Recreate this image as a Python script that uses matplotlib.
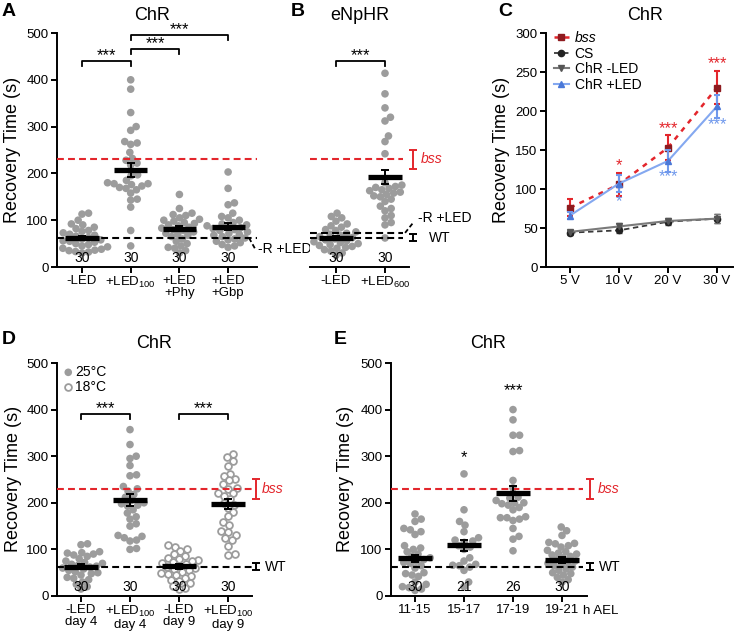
import numpy as np
import matplotlib
matplotlib.use("Agg")
import matplotlib.pyplot as plt

plt.rcParams['font.family'] = ['Liberation Sans', 'DejaVu Sans']
plt.rcParams['mathtext.fontset'] = 'custom'
plt.rcParams['mathtext.rm'] = 'Liberation Sans'
plt.rcParams['mathtext.it'] = 'Liberation Sans:italic'

W, H = 744, 634

# === data ===
# panel A (ChR)
a_labels = ['-LED', '+LED$_{100}$', '+LED\n+Phy', '+LED\n+Gbp']
a_pts = [
    [115, 113, 100, 92, 90, 85, 82, 78, 76, 73, 70, 68, 66, 63, 60, 58, 56, 55, 53, 50, 48, 45, 43, 40, 38, 36, 35, 33, 32, 30],
    [400, 380, 330, 300, 292, 268, 265, 262, 245, 232, 228, 222, 218, 197, 195, 185, 180, 178, 178, 176, 173, 170, 168, 165, 158, 145, 143, 128, 78, 45],
    [155, 125, 115, 112, 110, 105, 102, 100, 98, 95, 93, 90, 88, 85, 83, 80, 78, 75, 72, 70, 68, 65, 60, 55, 50, 45, 42, 40, 35, 30],
    [203, 168, 137, 133, 115, 108, 105, 100, 95, 92, 90, 88, 86, 84, 82, 80, 78, 75, 72, 70, 68, 65, 62, 60, 58, 55, 52, 48, 45, 42],
]
a_mean = [62, 207, 82, 86]
a_sem = [4, 15, 5, 8]
a_n = [30, 30, 30, 30]

# panel B (eNpHR)
b_labels = ['-LED', '+LED$_{600}$']
b_pts = [
    [115, 108, 105, 98, 92, 88, 85, 80, 78, 75, 72, 70, 68, 65, 63, 60, 58, 56, 54, 52, 50, 48, 46, 44, 42, 40, 37, 34, 30, 25],
    [414, 370, 340, 320, 312, 280, 268, 242, 180, 175, 172, 170, 168, 165, 163, 160, 158, 155, 152, 150, 145, 140, 130, 125, 120, 110, 105, 95, 90, 62],
]
b_mean = [63, 192]
b_sem = [4, 15]
b_n = [30, 30]

# panel C (ChR, voltage series)
c_labels = ['5 V', '10 V', '20 V', '30 V']
c_bss = [76, 106, 153, 230]
c_bss_err = [11, 15, 16, 21]
c_cs = [44, 47, 58, 62]
c_cs_err = [3, 4, 4, 6]
c_chr_off = [45, 52, 59, 62]
c_chr_off_err = [3, 4, 4, 6]
c_chr_on = [66, 107, 136, 206]
c_chr_on_err = [5, 11, 14, 15]

# panel D (ChR, temperature / day)
d_labels = ['-LED\nday 4', '+LED$_{100}$\nday 4', '-LED\nday 9', '+LED$_{100}$\nday 9']
d_pts = [
    [112, 110, 95, 93, 92, 90, 88, 85, 80, 75, 72, 70, 68, 66, 64, 62, 60, 58, 55, 52, 50, 48, 45, 40, 38, 35, 30, 25, 20, 15],
    [357, 325, 300, 295, 280, 260, 258, 235, 230, 225, 218, 212, 205, 200, 198, 195, 193, 185, 178, 170, 165, 155, 150, 130, 128, 125, 120, 118, 102, 100],
    [110, 105, 100, 97, 90, 85, 82, 80, 78, 75, 72, 70, 68, 65, 62, 60, 58, 55, 52, 50, 48, 45, 42, 38, 35, 32, 28, 22, 18, 15],
    [305, 298, 290, 280, 262, 258, 252, 248, 240, 232, 230, 222, 220, 215, 208, 200, 195, 188, 180, 172, 158, 152, 140, 138, 130, 125, 120, 108, 90, 88],
]
d_open = [False, False, True, True]
d_mean = [63, 206, 64, 198]
d_sem = [5, 13, 5, 11]
d_n = [30, 30, 30, 30]

# panel E (ChR, developmental time)
e_labels = ['11-15', '15-17', '17-19', '19-21']
e_pts = [
    [176, 165, 160, 145, 142, 138, 132, 108, 103, 100, 95, 90, 85, 82, 78, 75, 72, 70, 65, 60, 50, 48, 45, 42, 30, 25, 20, 18, 15, 12],
    [262, 185, 160, 152, 138, 125, 120, 118, 115, 108, 105, 100, 82, 75, 68, 66, 65, 62, 55, 30, 20],
    [400, 378, 345, 345, 312, 310, 248, 232, 212, 210, 205, 200, 200, 198, 195, 190, 185, 170, 168, 168, 165, 162, 145, 128, 122, 97],
    [148, 140, 130, 115, 113, 112, 108, 105, 98, 95, 92, 90, 88, 85, 82, 78, 75, 72, 70, 68, 65, 62, 58, 55, 50, 48, 45, 40, 35, 30],
]
e_mean = [81, 109, 220, 77]
e_sem = [8, 12, 16, 6]
e_n = [30, 21, 26, 30]

bss_ref, bss_ref_err = 230, 21
wt_ref, wt_ref_err = 63, 7
rled_ref = 62
rled_ref_b = 72

RED = '#e3262c'
GRAY = '#9c9c9c'

fig = plt.figure(figsize=(W / 100, H / 100), dpi=100)


def make_axes(left, right, top, bottom, c0, step, ymax):
    ax = fig.add_axes([left / W, 1 - bottom / H, (right - left) / W, (bottom - top) / H])
    ax.set_xlim((left - c0) / step, (right - c0) / step)
    ax.set_ylim(0, ymax)
    ax.spines['top'].set_visible(False)
    ax.spines['right'].set_visible(False)
    for s in ['left', 'bottom']:
        ax.spines[s].set_linewidth(1.4)
    ax.tick_params(width=1.4, length=4, labelsize=9.5, pad=2)
    ax._px = (step, (bottom - top) / ymax)
    return ax


def swarm(ys, px_x, px_y, d=6.6):
    # simple beeswarm: offsets so dots of diameter d (px) don't overlap
    ypx = np.asarray(ys, float) * px_y
    xs = np.zeros(len(ypx))
    placed = []
    for i in np.argsort(ypx):
        y = ypx[i]
        cands = [0.0]
        for xj, yj in placed:
            dy = abs(y - yj)
            if dy < d:
                dx = np.sqrt(d * d - dy * dy)
                cands += [xj + dx, xj - dx]
        cands.sort(key=abs)
        for c in cands:
            if all((c - xj) ** 2 + (y - yj) ** 2 >= d * d - 1e-6 for xj, yj in placed):
                xs[i] = c
                break
        placed.append((xs[i], y))
    return xs / px_x


def dots(ax, pts, opens=None):
    px_x, px_y = ax._px
    for i, ys in enumerate(pts):
        xs = i + swarm(ys, px_x, px_y)
        if opens is not None and opens[i]:
            ax.scatter(xs, ys, s=24, facecolor='white', edgecolor=GRAY, linewidth=1.3, zorder=2, clip_on=False)
        else:
            ax.scatter(xs, ys, s=30, facecolor=GRAY, edgecolor='none', zorder=2, clip_on=False)


def means(ax, mean, sem, n):
    for i, (m, e) in enumerate(zip(mean, sem)):
        ax.plot([i - 0.34, i + 0.34], [m, m], color='black', lw=3.8, solid_capstyle='butt', zorder=5)
        ax.errorbar(i, m, yerr=e, color='black', lw=1.4, capsize=3, capthick=1.4, zorder=5)
        ax.text(i, 20, str(n[i]), ha='center', va='center', fontsize=10, zorder=6)


def hline(ax, y, x1, color):
    x0 = ax.get_xlim()[0]
    ax.plot([x0, x1], [y, y], color=color, lw=1.5, dashes=(3.3, 2), zorder=4, clip_on=False)


def bracket(ax, x0, x1, y, stars, drop=11):
    ax.plot([x0, x0, x1, x1], [y - drop, y, y, y - drop], color='black', lw=1.3, clip_on=False)
    ax.text((x0 + x1) / 2, y - 4, stars, ha='center', va='bottom', fontsize=12, clip_on=False)


def side_refs(ax, xbar, xbss, xwt, wt=True):
    ax.errorbar(xbar, bss_ref, yerr=bss_ref_err, color=RED, lw=1.4, capsize=3, capthick=1.4, clip_on=False)
    ax.text(xbss, bss_ref, 'bss', color=RED, style='italic', ha='left', va='center', fontsize=10)
    if wt:
        ax.errorbar(xbar, wt_ref, yerr=wt_ref_err, color='black', lw=1.4, capsize=3, capthick=1.4, clip_on=False)
        ax.text(xwt, wt_ref, 'WT', ha='left', va='center', fontsize=10)


def xlabels(ax, labels):
    ax.set_xticks(range(len(labels)))
    ax.set_xticklabels(labels, linespacing=1.0)


# === Panel A ===
axA = make_axes(57, 257, 33, 267, 82, 48.7, 500)
axA.set_yticks(range(0, 501, 100))
xlabels(axA, a_labels)
dots(axA, a_pts)
means(axA, a_mean, a_sem, a_n)
hline(axA, bss_ref, 3.59, RED)
hline(axA, rled_ref, 3.59, 'black')
axA.plot([3.43, 3.57], [62, 36], color='black', lw=1.3, dashes=(2.5, 1.5), clip_on=False)
axA.text(3.61, 38, '-R +LED', ha='left', va='center', fontsize=10)
bracket(axA, 0, 1, 440, '***')
bracket(axA, 1, 2, 466, '***')
bracket(axA, 1, 3, 495, '***')

# === Panel B ===
axB = make_axes(310, 409, 33, 267, 336, 49, 500)
axB.spines['left'].set_visible(False)
axB.set_yticks([])
xlabels(axB, b_labels)
dots(axB, b_pts)
means(axB, b_mean, b_sem, b_n)
hline(axB, bss_ref, 1.37, RED)
hline(axB, wt_ref, 1.37, 'black')
hline(axB, rled_ref_b, 1.37, 'black')
axB.plot([1.41, 1.57], [73, 94], color='black', lw=1.3, dashes=(2.5, 1.5), clip_on=False)
axB.text(1.67, 105, '-R +LED', ha='left', va='center', fontsize=10)
side_refs(axB, 1.57, 1.73, 1.9)
bracket(axB, 0, 1, 440, '***')

# === Panel C ===
axC = make_axes(546, 733, 33, 267, 570, 49, 300)
axC.set_yticks(range(0, 301, 50))
xlabels(axC, c_labels)
xc = np.arange(4)
axC.errorbar(xc, c_cs, yerr=c_cs_err, fmt='none', ecolor='#444444', lw=1.2, capsize=2.5, zorder=2)
axC.errorbar(xc, c_chr_off, yerr=c_chr_off_err, fmt='none', ecolor='#777777', lw=1.2, capsize=2.5, zorder=2)
axC.errorbar(xc, c_bss, yerr=c_bss_err, fmt='none', ecolor=RED, lw=1.5, capsize=2.5, capthick=1.5, zorder=3)
axC.errorbar(xc, c_chr_on, yerr=c_chr_on_err, fmt='none', ecolor='#6f98ec', lw=1.5, capsize=2.5, capthick=1.5, zorder=4)
axC.plot(xc, c_bss, color=RED, lw=1.8, dashes=(2, 2.2), marker='s', ms=5, mfc='#8e1b1f', mec='#8e1b1f', label='bss', zorder=3)
axC.plot(xc, c_cs, color='#3a3a3a', lw=1.3, dashes=(3, 2), marker='o', ms=4.5, mfc='#222222', mec='#222222', label='CS', zorder=3)
axC.plot(xc, c_chr_off, color='#7a7a7a', lw=1.5, marker='v', ms=4.5, mfc='#555555', mec='#555555', label='ChR -LED', zorder=3)
axC.plot(xc, c_chr_on, color='#84a8f0', lw=1.5, marker='^', ms=4.5, mfc='#4a78d8', mec='#4a78d8', label='ChR +LED', zorder=4)
leg = axC.legend(loc='upper left', bbox_to_anchor=(-0.01, 1.05), frameon=False, fontsize=10,
                 handlelength=1.1, handletextpad=0.4, labelspacing=0.12, borderpad=0.2)
leg.get_texts()[0].set_style('italic')
c_red_stars = [(1, 130, '*'), (2, 178, '***'), (3, 261, '***')]
c_blue_stars = [(1, 84, '*'), (2, 116, '***'), (3, 183, '***')]
for x, y, s in c_red_stars:
    axC.text(x, y, s, color=RED, ha='center', va='center', fontsize=12)
for x, y, s in c_blue_stars:
    axC.text(x, y, s, color='#6f98ec', ha='center', va='center', fontsize=12)

# === Panel D ===
axD = make_axes(57, 252, 363, 596, 81, 49, 500)
axD.set_yticks(range(0, 501, 100))
xlabels(axD, d_labels)
dots(axD, d_pts, d_open)
means(axD, d_mean, d_sem, d_n)
hline(axD, bss_ref, 3.49, RED)
hline(axD, wt_ref, 3.49, 'black')
side_refs(axD, 3.57, 3.69, 3.76)
bracket(axD, 0, 1, 390, '***')
bracket(axD, 2, 3, 390, '***')
# temperature key
axD.scatter([-0.26], [480], s=30, facecolor=GRAY, edgecolor='none', clip_on=False)
axD.scatter([-0.26], [448], s=24, facecolor='white', edgecolor=GRAY, linewidth=1.3, clip_on=False)
axD.text(-0.12, 480, '25°C', ha='left', va='center', fontsize=10)
axD.text(-0.12, 448, '18°C', ha='left', va='center', fontsize=10)

# === Panel E ===
axE = make_axes(391, 587, 363, 596, 415, 49, 500)
axE.set_yticks(range(0, 501, 100))
xlabels(axE, e_labels)
dots(axE, e_pts)
means(axE, e_mean, e_sem, e_n)
hline(axE, bss_ref, 3.43, RED)
hline(axE, wt_ref, 3.43, 'black')
side_refs(axE, 3.57, 3.73, 3.76)
axE.text(1, 298, '*', ha='center', va='center', fontsize=12)
axE.text(2, 440, '***', ha='center', va='center', fontsize=12)
fig.text(583 / W, 1 - 611 / H, 'h AEL', ha='left', va='center', fontsize=9.5)

# === titles, y labels, panel letters ===
for x, y, s in [(152, 15, 'ChR'), (360, 15, 'eNpHR'), (645, 15, 'ChR'), (154, 343, 'ChR'), (488, 343, 'ChR')]:
    fig.text(x / W, 1 - y / H, s, ha='center', va='center', fontsize=13)
for x, y in [(13, 150), (502, 150), (14, 479), (345, 479)]:
    fig.text(x / W, 1 - y / H, 'Recovery Time (s)', ha='center', va='center', rotation=90, fontsize=13)
for x, y, s in [(2, 11, 'A'), (291, 11, 'B'), (498, 11, 'C'), (2, 339, 'D'), (334, 339, 'E')]:
    fig.text(x / W, 1 - y / H, s, ha='left', va='center', fontsize=14, fontweight='bold')

fig.savefig('out.png', dpi=100)
